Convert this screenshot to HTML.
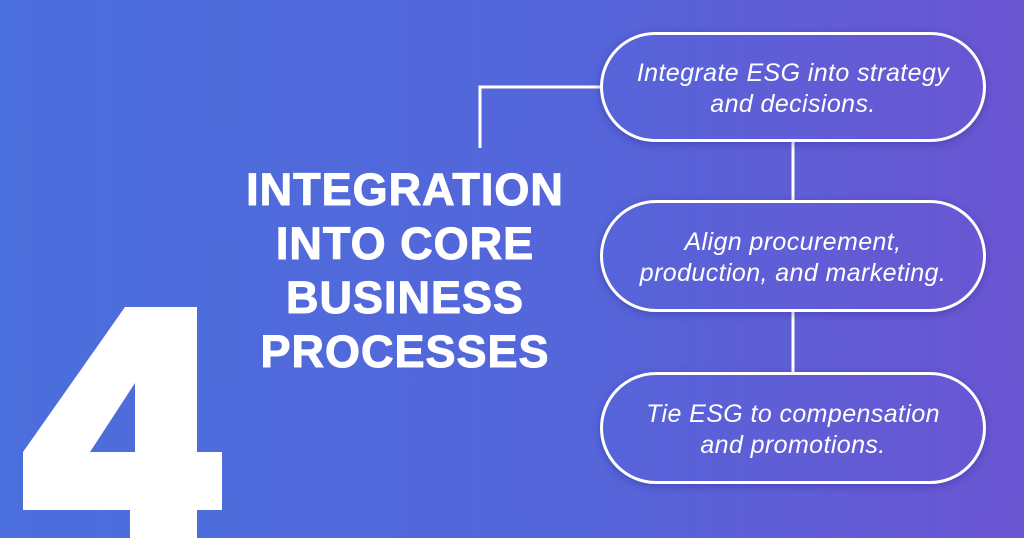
<!DOCTYPE html>
<html><head><style>
html,body{margin:0;padding:0}
body{width:1024px;height:538px;overflow:hidden;position:relative;background:linear-gradient(90deg,#4b6fdc 0%,#5466da 55%,#6b55d2 100%);font-family:"Liberation Sans",sans-serif}
.t{position:absolute;left:225px;width:360px;text-align:center;color:#fff;font-weight:bold;font-size:45px;letter-spacing:1px;line-height:54px;top:163px;-webkit-text-stroke:1px #fff}
.b{position:absolute;left:600px;width:386px;border:3px solid #fff;border-radius:56px;color:#fff;font-style:italic;font-size:25px;letter-spacing:0.4px;line-height:31px;text-align:center;display:flex;align-items:center;justify-content:center;box-shadow:0 2px 8px rgba(30,30,120,.35);padding-top:4px;box-sizing:border-box}
</style></head><body>
<svg width="1024" height="538" style="position:absolute;left:0;top:0">
<polygon fill="#fff" points="125,307 197,307 197,452 222,452 222,510 197,510 197,538 130,538 130,510 23,510 23,452" />
<polygon fill="#4f6cdb" points="135,383 135,452 90,452" />
<polyline points="602,87 480,87 480,148" fill="none" stroke="#fff" stroke-width="3"/>
<line x1="793" y1="140" x2="793" y2="202" stroke="#fff" stroke-width="3"/>
<line x1="793" y1="312" x2="793" y2="374" stroke="#fff" stroke-width="3"/>
</svg>
<div class="t">INTEGRATION<br>INTO CORE<br>BUSINESS<br>PROCESSES</div>
<div class="b" style="top:32px;height:110px">Integrate ESG into strategy<br>and decisions.</div>
<div class="b" style="top:200px;height:112px">Align procurement,<br>production, and marketing.</div>
<div class="b" style="top:372px;height:112px">Tie ESG to compensation<br>and promotions.</div>
</body></html>
